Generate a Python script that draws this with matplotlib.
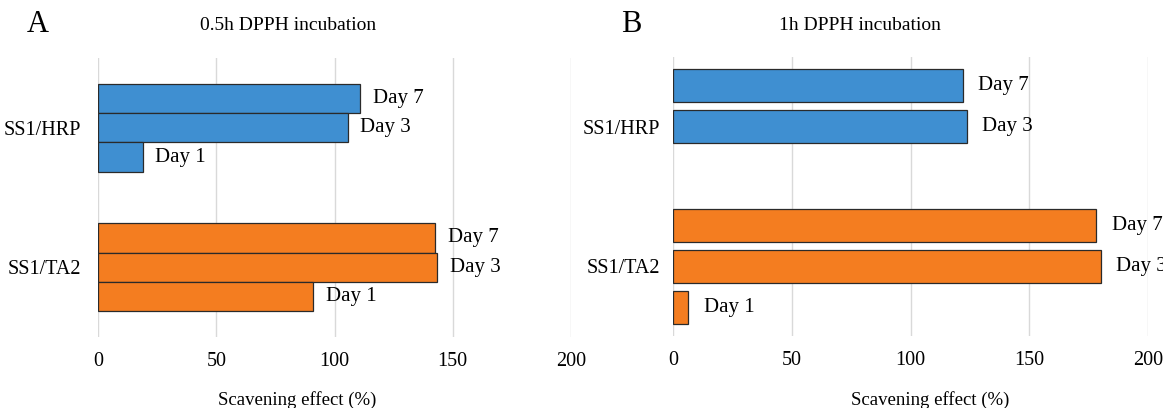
import numpy as np
import matplotlib
matplotlib.use("Agg")
import matplotlib.pyplot as plt

plt.rcParams['font.family'] = ['Liberation Serif', 'DejaVu Serif']

# data
groups = ['SS1/HRP', 'SS1/TA2']
days = ['Day 7', 'Day 3', 'Day 1']
colors = ['#3F8FD1', '#F47D20']

# values per group, ordered Day 7, Day 3, Day 1
half_hour = {
    'SS1/HRP': [110.8, 105.5, 19.0],
    'SS1/TA2': [142.5, 143.5, 91.0],
}
one_hour = {
    'SS1/HRP': [122.0, 123.8, np.nan],
    'SS1/TA2': [178.2, 180.3, 6.5],
}

titles = ['0.5h DPPH incubation', '1h DPPH incubation']
letters = ['A', 'B']
xticks = [0, 50, 100, 150, 200]

W, H = 1163, 408
fig = plt.figure(figsize=(W / 100, H / 100), dpi=100)


def px_axes(left, right, top, bottom):
    return fig.add_axes([left / W, 1 - bottom / H, (right - left) / W, (bottom - top) / H])


def draw_panel(ax, data, bar_h, step, label_off, ypad):
    for gi, g in enumerate(groups):
        vals = data[g]
        for di, v in enumerate(vals):
            y = gi + (di - 1) * step
            if np.isnan(v):
                continue
            ax.barh(y, v, height=bar_h, color=colors[gi], edgecolor='#2a2a2a',
                    linewidth=0.9, zorder=3)
            ax.annotate(days[di], xy=(v, y), xytext=(label_off, 0),
                        textcoords='offset points', va='center', ha='left',
                        fontsize=15, annotation_clip=False)
    ax.set_xlim(0, 200)
    ax.set_ylim(1.5, -0.5)
    ax.set_xticks(xticks)
    ax.set_yticks(range(len(groups)))
    ax.set_yticklabels(groups)
    ax.grid(axis='x', color='#D9D9D9', linewidth=1, zorder=0)
    ax.set_axisbelow(True)
    for s in ax.spines.values():
        s.set_visible(False)
    ax.tick_params(axis='x', length=0, labelsize=14.5, pad=11)
    ax.tick_params(axis='y', length=0, labelsize=14.5, pad=ypad)


axA = px_axes(98, 571, 58, 337)
draw_panel(axA, half_hour, 0.21, 0.21, 9, 12)

axB = px_axes(673, 1148, 57, 336)
draw_panel(axB, one_hour, 0.237, 0.294, 11, 9)

# titles, panel letters, x labels
fig.text(288 / W, 1 - 25 / H, titles[0], ha='center', va='center', fontsize=14)
fig.text(860 / W, 1 - 25 / H, titles[1], ha='center', va='center', fontsize=14)
fig.text(27 / W, 1 - 25 / H, letters[0], ha='left', va='center', fontsize=22)
fig.text(621 / W, 1 - 25 / H, letters[1], ha='left', va='center', fontsize=22)
fig.text(297 / W, 1 - 405 / H, 'Scavening effect (%)', ha='center', va='baseline', fontsize=13.5)
fig.text(930 / W, 1 - 405 / H, 'Scavening effect (%)', ha='center', va='baseline', fontsize=13.5)

fig.savefig('out.png', dpi=100)
